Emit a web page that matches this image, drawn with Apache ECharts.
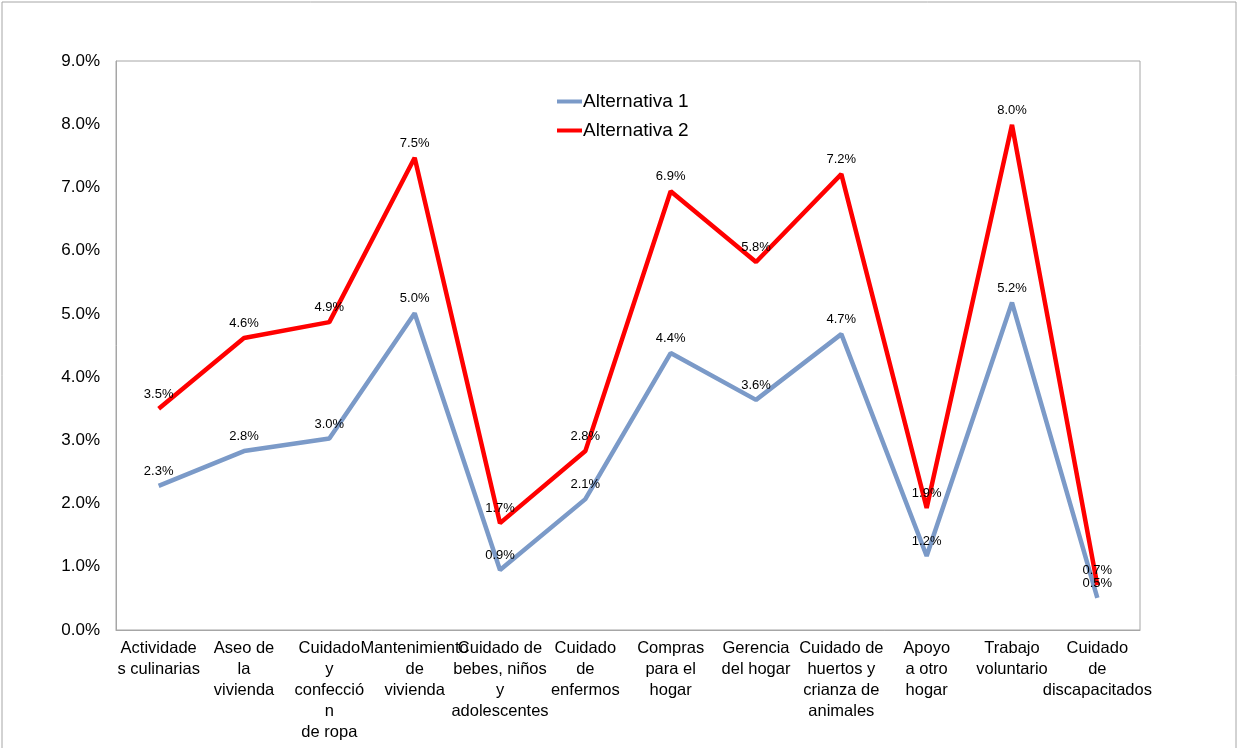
<!DOCTYPE html>
<html><head><meta charset="utf-8">
<script src="https://cdn.jsdelivr.net/npm/echarts@6/dist/echarts.min.js"></script>
<style>html,body{margin:0;padding:0;background:#fff}#c{width:1238px;height:748px}</style>
</head><body><div id="c"></div>
<script>
const categories = [
  "Actividade\ns culinarias", "Aseo de\nla\nvivienda", "Cuidado\ny\nconfecció\nn\nde ropa",
  "Mantenimiento\nde\nvivienda", "Cuidado de\nbebes, niños\ny\nadolescentes", "Cuidado\nde\nenfermos",
  "Compras\npara el\nhogar", "Gerencia\ndel hogar", "Cuidado de\nhuertos y\ncrianza de\nanimales",
  "Apoyo\na otro\nhogar", "Trabajo\nvoluntario", "Cuidado\nde\ndiscapacitados"
];
const alternativa1 = [2.28, 2.83, 3.03, 5.01, 0.95, 2.07, 4.38, 3.64, 4.68, 1.17, 5.18, 0.51];
const alternativa2 = [3.50, 4.62, 4.87, 7.47, 1.69, 2.83, 6.94, 5.82, 7.21, 1.93, 7.99, 0.71];
const seriesNames = ["Alternativa 1", "Alternativa 2"];
const yTicks = {min: 0, max: 9, interval: 1};

const font = "'Liberation Sans', Arial, sans-serif";
const chart = echarts.init(document.getElementById('c'));
const mkLabel = {
  show: true, position: 'top', distance: 8, color: '#000', fontSize: 13, fontFamily: font,
  formatter: p => p.value.toFixed(1) + '%'
};
chart.setOption({
  animation: false,
  backgroundColor: '#fff',
  graphic: [{type: 'rect', shape: {x: 2, y: 2, width: 1234, height: 800},
    style: {fill: 'none', stroke: '#a6a6a6', lineWidth: 1}, silent: true}],
  grid: {left: 116, right: 98, top: 61, bottom: 118, show: true, borderColor: '#a6a6a6', borderWidth: 1, containLabel: false},
  legend: {
    orient: 'vertical', left: 557, top: 92, padding: 0, itemGap: 10, itemWidth: 25, itemHeight: 4, icon: 'rect',
    textStyle: {fontSize: 19, fontFamily: font, color: '#000', padding: [0, 0, 0, -4]},
    data: seriesNames
  },
  xAxis: {
    type: 'category', data: categories, boundaryGap: true,
    axisLine: {show: true, lineStyle: {color: '#a6a6a6'}}, axisTick: {show: false},
    axisLabel: {interval: 0, fontSize: 16.5, fontFamily: font, color: '#000', lineHeight: 21, margin: 8, align: 'center'}
  },
  yAxis: {
    type: 'value', min: yTicks.min, max: yTicks.max, interval: yTicks.interval,
    splitLine: {show: false}, axisLine: {show: true, lineStyle: {color: '#a6a6a6'}}, axisTick: {show: false},
    axisLabel: {fontSize: 17, fontFamily: font, color: '#000', margin: 16, formatter: v => v.toFixed(1) + '%'}
  },
  series: [
    {name: seriesNames[0], type: 'line', data: alternativa1, symbol: 'circle', symbolSize: 0.01, showSymbol: true,
     color: '#7b9ac8', lineStyle: {width: 4.5, color: '#7b9ac8'}, label: mkLabel},
    {name: seriesNames[1], type: 'line', data: alternativa2, symbol: 'circle', symbolSize: 0.01, showSymbol: true,
     color: '#ff0000', lineStyle: {width: 4.5, color: '#ff0000'}, label: mkLabel}
  ]
});
</script></body></html>
